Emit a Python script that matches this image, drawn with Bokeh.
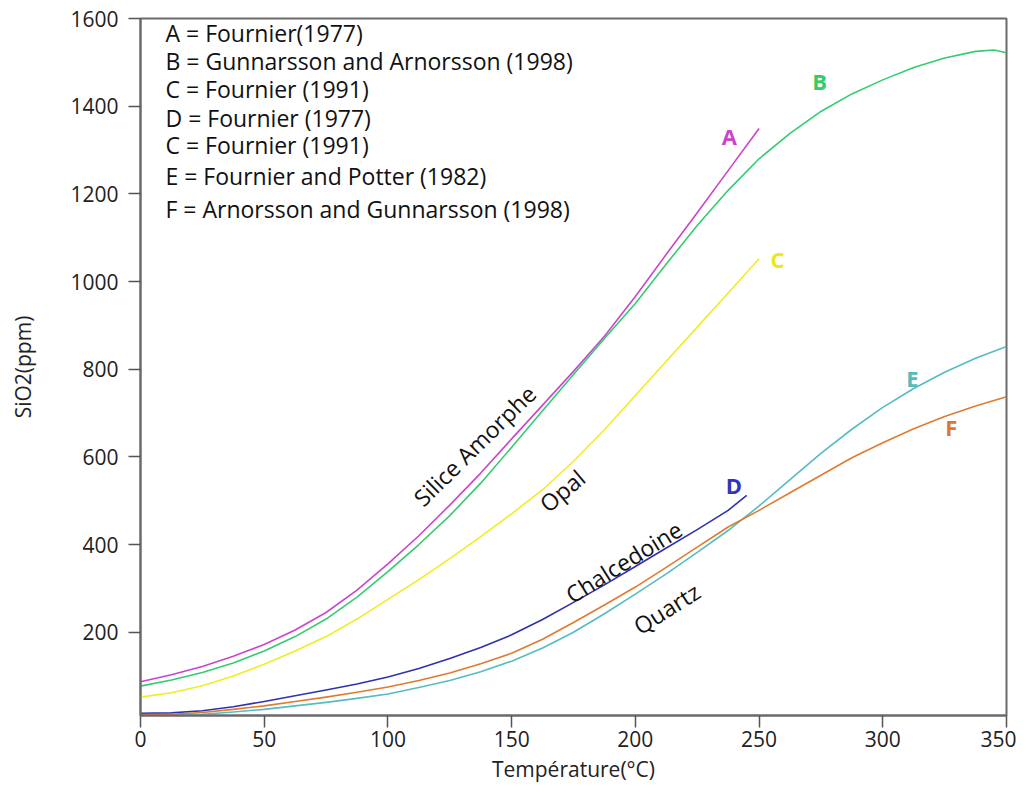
import math
from bokeh.plotting import figure
from bokeh.models import Range1d, FixedTicker
from bokeh.core.properties import value
from bokeh.embed import file_html
from bokeh.resources import INLINE

FONT = "Open Sans"

# ---- data ----
a_x = [0, 12.5, 25, 37.5, 50, 62.5, 75, 87.5, 100, 112.5, 125, 137.5, 150, 162.5, 175, 187.5,
       200, 212.5, 225, 237.5, 250]
a_y = [87, 103, 122, 145, 172, 205, 245, 296, 356, 420, 490, 563, 641, 718, 795, 875,
       966, 1062, 1157, 1253, 1349]

b_x = [0, 12.5, 25, 37.5, 50, 62.5, 75, 87.5, 100, 112.5, 125, 137.5, 150, 162.5, 175, 187.5,
       200, 212.5, 225, 237.5, 250, 262.5, 275, 287.5, 300, 312.5, 325, 337.5, 345, 350]
b_y = [77, 91, 108, 130, 157, 190, 230, 280, 338, 400, 466, 540, 622, 705, 788, 870,
       950, 1040, 1128, 1208, 1280, 1338, 1388, 1428, 1460, 1488, 1510, 1525, 1528, 1522]

c_x = [0, 12.5, 25, 37.5, 50, 62.5, 75, 87.5, 100, 112.5, 125, 137.5, 150, 162.5, 175, 187.5,
       200, 212.5, 225, 237.5, 250]
c_y = [52, 62, 78, 100, 127, 157, 190, 230, 275, 320, 368, 418, 470, 525, 590, 662,
       740, 818, 896, 974, 1052]

d_x = [0, 12.5, 25, 37.5, 50, 62.5, 75, 87.5, 100, 112.5, 125, 137.5, 150, 162.5, 175, 187.5,
       200, 212.5, 225, 237.5, 245]
d_y = [15, 16, 21, 30, 42, 55, 68, 82, 98, 117, 140, 165, 194, 229, 268, 308,
       350, 392, 434, 478, 512]

e_x = [0, 12.5, 25, 37.5, 50, 62.5, 75, 87.5, 100, 112.5, 125, 137.5, 150, 162.5, 175, 187.5,
       200, 212.5, 225, 237.5, 250, 262.5, 275, 287.5, 300, 312.5, 325, 337.5, 350]
e_y = [10, 11, 13, 18, 24, 32, 40, 49, 59, 74, 90, 110, 134, 164, 200, 242,
       287, 333, 382, 432, 488, 548, 608, 663, 713, 756, 793, 825, 852]

f_x = [0, 12.5, 25, 37.5, 50, 62.5, 75, 87.5, 100, 112.5, 125, 137.5, 150, 162.5, 175, 187.5,
       200, 212.5, 225, 237.5, 250, 262.5, 275, 287.5, 300, 312.5, 325, 337.5, 350]
f_y = [12, 13, 17, 24, 32, 42, 52, 63, 75, 90, 107, 128, 152, 184, 222, 262,
       303, 348, 394, 440, 478, 518, 558, 598, 632, 664, 692, 716, 737]

x_ticks = [0, 50, 100, 150, 200, 250, 300, 350]
y_ticks = [200, 400, 600, 800, 1000, 1200, 1400, 1600]

legend_lines = [
    "A = Fournier(1977)",
    "B = Gunnarsson and Arnorsson (1998)",
    "C = Fournier (1991)",
    "D = Fournier (1977)",
    "C = Fournier (1991)",
    "E = Fournier and Potter (1982)",
    "F = Arnorsson and Gunnarsson (1998)",
]
legend_y = [1566, 1502, 1440, 1374, 1312, 1241, 1166]

mineral_names = ["Silice Amorphe", "Opal", "Chalcedoine", "Quartz"]
mineral_x = [135, 170.4, 195.3, 212.6]
mineral_y = [626, 523, 361, 254]
mineral_angle_deg = [44.5, 40, 32, 32.5]

letters = ["A", "B", "C", "D", "E", "F"]
letter_x = [238, 274.5, 257.5, 239.8, 312, 327.7]
letter_y = [1331, 1458, 1052, 535, 779, 667]

colors = ["#cc44cc", "#33cc70", "#eeee22", "#3030b0", "#55bcc0", "#e07a30"]
letter_colors = ["#cc44cc", "#33cc66", "#e8e820", "#3333bb", "#55bbbb", "#dd7733"]

# ---- figure ----
p = figure(width=1016, height=786, output_backend="svg", toolbar_location=None,
           x_range=Range1d(0, 350), y_range=Range1d(10, 1600),
           min_border_left=140, min_border_right=10, min_border_top=18, min_border_bottom=71)
p.background_fill_color = "white"
p.border_fill_color = "white"
p.grid.visible = False
p.outline_line_color = "#6b6b6b"
p.outline_line_width = 2

for ax in (p.xaxis[0], p.yaxis[0]):
    ax.axis_line_color = "#6b6b6b"
    ax.axis_line_width = 2
    ax.major_tick_line_color = "#555555"
    ax.major_tick_line_width = 1.5
    ax.major_tick_in = 0
    ax.minor_tick_line_color = None
    ax.major_label_text_font = FONT
    ax.major_label_text_font_size = "21px"
    ax.major_label_text_color = "#222222"
    ax.axis_label_text_font = FONT
    ax.axis_label_text_font_size = "21px"
    ax.axis_label_text_font_style = "normal"
    ax.axis_label_text_color = "#222222"

p.xaxis[0].ticker = FixedTicker(ticks=x_ticks)
p.yaxis[0].ticker = FixedTicker(ticks=y_ticks)
p.xaxis[0].major_tick_out = 12
p.yaxis[0].major_tick_out = 12
p.xaxis[0].major_label_standoff = 3
p.yaxis[0].major_label_standoff = 10
p.xaxis[0].axis_label = "Température(°C)"
p.yaxis[0].axis_label = "SiO2(ppm)"
p.xaxis[0].axis_label_standoff = 5
p.yaxis[0].axis_label_standoff = 30

series = [(a_x, a_y), (b_x, b_y), (c_x, c_y), (d_x, d_y), (e_x, e_y), (f_x, f_y)]
for (xs, ys), col in zip(series, colors):
    p.line(xs, ys, line_color=col, line_width=1.6, line_join="round")

p.text(x=[10.1] * len(legend_lines), y=legend_y, text=legend_lines,
       text_font=value(FONT), text_font_size="23px", text_color="#111111",
       text_align="left", text_baseline="middle")

p.text(x=mineral_x, y=mineral_y, text=mineral_names,
       angle=[math.radians(a) for a in mineral_angle_deg],
       text_font=value(FONT), text_font_size="23px", text_color="#111111",
       text_align="center", text_baseline="middle")

p.text(x=letter_x, y=letter_y, text=letters, text_color=letter_colors,
       text_font=value(FONT), text_font_size="22px", text_font_style="bold",
       text_align="center", text_baseline="middle")

open("out.html", "w").write(file_html(p, INLINE))
